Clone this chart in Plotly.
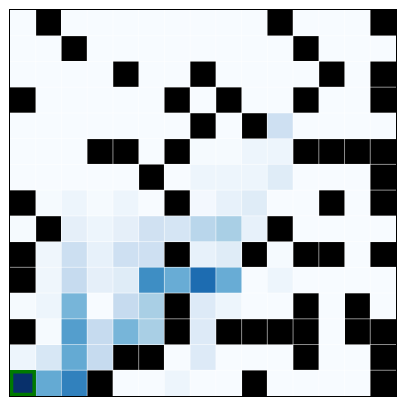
import plotly.graph_objects as go

N = 15
# visit intensity per cell (row 0 = top), None where a wall sits
visits = [
    [0, None, 0, 0, 0, 0, 0, 0, 0, 0, None, 0, 0, 0, None],
    [0, 0, None, 0, 0, 0, 0, 0, 0, 0, 0, None, 0, 0, 0],
    [0, 0, 0, 0, None, 0, 0, None, 0, 0, 0, 0, None, 0, None],
    [None, 0, 0, 0, 0, 0, None, 0, None, 0, 0, None, 0, 0, None],
    [0, 0, 0, 0, 0, 0, 0, None, 0, None, 0.21, 0, 0, 0, 0],
    [0, 0, 0, None, None, 0, None, 0.01, 0.01, 0.05, 0.05, None, None, None, None],
    [0, 0, 0, 0, 0, None, 0, 0.05, 0.05, 0.05, 0.12, 0, 0, 0, None],
    [None, 0.01, 0.05, 0.01, 0.05, 0.0, None, 0.02, 0.08, 0.12, 0, 0, None, 0, None],
    [0.01, None, 0.09, 0.05, 0.09, 0.20, 0.17, 0.29, 0.34, 0.08, None, 0, 0, 0, 0],
    [None, 0.04, 0.22, 0.08, 0.21, 0.21, None, 0.08, 0.12, None, 0.01, None, None, 0, None],
    [None, 0.04, 0.25, 0.09, 0.12, 0.64, 0.51, 0.77, 0.51, 0.0, 0.05, 0, 0, 0, 0],
    [0.01, 0.05, 0.47, 0.0, 0.25, 0.34, None, 0.13, 0.05, 0, 0, None, 0, None, 0],
    [None, 0.01, 0.57, 0.25, 0.47, 0.34, None, 0.13, None, None, None, None, 0, None, None],
    [0.05, 0.16, 0.52, 0.25, None, None, 0.0, 0.13, 0, 0, 0, None, 0, 0, None],
    [1.0, 0.52, 0.69, None, 0, 0, 0.05, 0, 0, None, 0, 0, 0, 0, None],
]

walls = [[None if v is not None else 1 for v in row] for row in visits]

blues = ["#f7fbff", "#deebf7", "#c6dbef", "#9ecae1", "#6baed6",
         "#4292c6", "#2171b5", "#08519c", "#08306b"]
blue_scale = [[i / (len(blues) - 1), c] for i, c in enumerate(blues)]

start_row, start_col = 14, 0

fig = go.Figure()
fig.add_trace(go.Heatmap(z=visits, x=list(range(N)), y=list(range(N)),
                         colorscale=blue_scale, zmin=0, zmax=1,
                         showscale=False, hoverongaps=False))
fig.add_trace(go.Heatmap(z=walls, x=list(range(N)), y=list(range(N)),
                         colorscale=[[0, "black"], [1, "black"]], zmin=0, zmax=1,
                         showscale=False, hoverongaps=False))

shapes = []
for k in range(1, N):
    shapes.append(dict(type="line", x0=k - 0.5, x1=k - 0.5, y0=-0.5, y1=N - 0.5,
                       line=dict(color="rgba(255,255,255,0.55)", width=1), layer="above"))
    shapes.append(dict(type="line", y0=k - 0.5, y1=k - 0.5, x0=-0.5, x1=N - 0.5,
                       line=dict(color="rgba(255,255,255,0.55)", width=1), layer="above"))
d = 0.06
shapes.append(dict(type="rect", x0=start_col - 0.5 + d, x1=start_col + 0.5 - d,
                   y0=start_row - 0.5 + d, y1=start_row + 0.5 - d,
                   line=dict(color="#007a00", width=3.5), layer="above"))

fig.update_layout(
    width=405, height=405,
    margin=dict(l=10, r=9, t=10, b=9),
    paper_bgcolor="white", plot_bgcolor="white",
    shapes=shapes,
    xaxis=dict(range=[-0.5, N - 0.5], showticklabels=False, ticks="", showgrid=False,
               zeroline=False, showline=True, linecolor="black", linewidth=1, mirror=True),
    yaxis=dict(range=[N - 0.5, -0.5], showticklabels=False, ticks="", showgrid=False,
               zeroline=False, showline=True, linecolor="black", linewidth=1, mirror=True),
)

fig.write_html("out.html")
